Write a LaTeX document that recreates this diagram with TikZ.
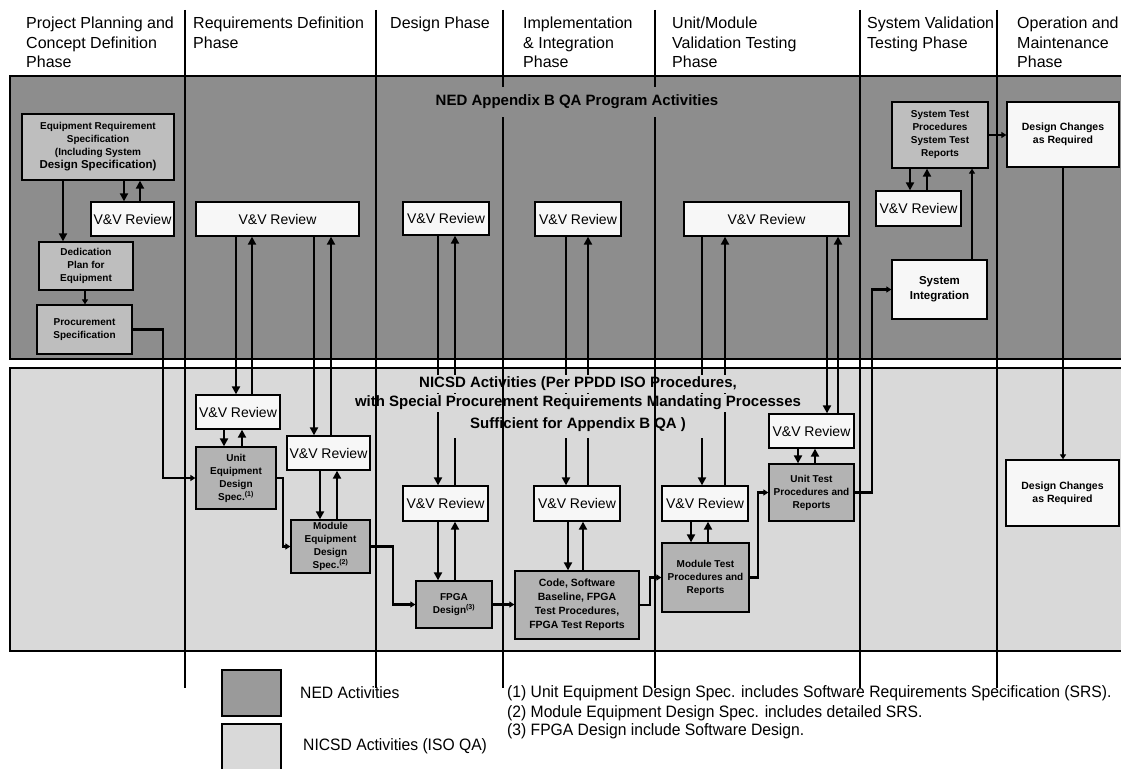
\documentclass[tikz,border=0pt]{standalone}
\usepackage{fontspec}
\setmainfont{Liberation Sans}
\newfontfamily\notefont[FakeStretch=0.95]{Liberation Sans}
\usetikzlibrary{arrows.meta}

\definecolor{nedbg}{HTML}{8D8D8D}
\definecolor{nicsdbg}{HTML}{D9D9D9}
\definecolor{specfill}{HTML}{BEBEBE}
\definecolor{workfill}{HTML}{B3B3B3}
\definecolor{paper}{HTML}{F7F7F7}
\definecolor{legned}{HTML}{9A9A9A}

% one review loop that crosses from the NED band into the NICSD band
\newcommand{\reviewlink}[3]{%
  \draw[feed] (#1 |- #2) -- (#1 |- band);
  \draw[flow] (#1 |- band) -- (#1 |- #3);}

\begin{document}
\begin{tikzpicture}[x=1pt,y=-1pt,
  geom/.style n args={4}{at={({(#1+#3)/2},{(#2+#4)/2})},
    minimum width={(#3-#1)*1pt},minimum height={(#4-#2)*1pt}},
  box/.style={draw=black,line width=1.3pt,inner sep=1pt,align=center,text=black},
  specbox/.style={box,fill=specfill,font=\fontsize{10}{13}\selectfont\bfseries},
  workbox/.style={box,fill=workfill,font=\fontsize{10}{13}\selectfont\bfseries},
  whitebox/.style={box,fill=paper,font=\fontsize{10.5}{13}\selectfont\bfseries},
  vvbox/.style={box,fill=paper,font=\fontsize{14}{16}\selectfont},
  phasehead/.style={anchor=north west,inner sep=0,align=left,
    font=\fontsize{16}{19.5}\selectfont},
  bandtitle/.style={inner xsep=3pt,inner ysep=2pt,font=\fontsize{15}{18}\selectfont\bfseries},
  region/.style={draw=black,line width=1.3pt},
  divider/.style={line width=1.2pt},
  feed/.style={line width=1.1pt},
  flow/.style={line width=2.6pt,-{Triangle[length=8pt,width=8pt]}},
  stepflow/.style={line width=2.8pt,-{Triangle[length=5pt,width=6pt]}},
  legendsq/.style={draw=black,line width=1.4pt},
  note/.style={anchor=west,inner sep=0,font=\notefont\fontsize{16.5}{19}\selectfont},
]
\clip (0,0) rectangle (1121,768);

% bands
\draw[region,fill=nedbg] (10,76) rectangle (1130,359);
\draw[region,fill=nicsdbg] (10,368) rectangle (1130,651);

% phase headings
\node[phasehead] (h1) at (26,17) {Project Planning and\\Concept Definition\\Phase};
\node[phasehead] (h2) at (193,17) {Requirements Definition\\Phase};
\node[phasehead] (h3) at (390,17) {Design Phase};
\node[phasehead] (h4) at (523,17) {Implementation\\\& Integration\\Phase};
\node[phasehead] (h5) at (672,17) {Unit/Module\\Validation Testing\\Phase};
\node[phasehead] (h6) at (867,17) {System Validation\\Testing Phase};
\node[phasehead] (h7) at (1017,17) {Operation and\\Maintenance\\Phase};

% NED activities
\node[specbox,geom={22}{114}{174}{180}] (ers)
  {Equipment Requirement\\Specification\\(Including System\\{\fontsize{11.5}{13}\selectfont Design Specification)}};
\node[specbox,geom={39}{242}{133}{290}] (ded) {Dedication\\Plan for\\Equipment};
\node[specbox,geom={37}{305}{132}{354}] (pro) {Procurement\\Specification};
\node[specbox,geom={892}{102}{988}{168}] (systest) {System Test\\Procedures\\System Test\\Reports};
\node[whitebox,geom={892}{260}{987}{319},font=\fontsize{11.5}{15}\selectfont\bfseries] (sysint) {System\\Integration};
\node[whitebox,geom={1007}{102}{1119}{167}] (dc) {Design Changes\\as Required};

\node[vvbox,geom={91}{202}{174}{236}] (vvP) {V\&V Review};
\node[vvbox,geom={196}{202}{359}{236}] (vvR) {V\&V Review};
\node[vvbox,geom={403}{202}{489}{235}] (vvD) {V\&V Review};
\node[vvbox,geom={535}{202}{621}{236}] (vvI) {V\&V Review};
\node[vvbox,geom={684}{202}{849}{236}] (vvT) {V\&V Review};
\node[vvbox,geom={876}{191}{961}{226}] (vvS) {V\&V Review};

% NICSD activities
\node[vvbox,geom={196}{395}{280}{429}] (vvR1) {V\&V Review};
\node[vvbox,geom={287}{436}{370}{470}] (vvR2) {V\&V Review};
\node[vvbox,geom={403}{486}{488}{521}] (vvD2) {V\&V Review};
\node[vvbox,geom={534}{486}{620}{521}] (vvI2) {V\&V Review};
\node[vvbox,geom={662}{486}{748}{521}] (vvT2) {V\&V Review};
\node[vvbox,geom={769}{414}{854}{448}] (vvU) {V\&V Review};

\node[workbox,geom={196}{447}{276}{509}] (unit) {Unit\\Equipment\\Design\\Spec.\textsuperscript{(1)}};
\node[workbox,geom={291}{520}{370}{573}] (mod) {Module\\Equipment\\Design\\Spec.\textsuperscript{(2)}};
\node[workbox,geom={416}{581}{492}{628}] (fpga) {FPGA\\Design\textsuperscript{(3)}};
\node[workbox,geom={515}{571}{639}{639},font=\fontsize{10.5}{14}\selectfont\bfseries] (code)
  {Code, Software\\Baseline, FPGA\\Test Procedures,\\FPGA Test Reports};
\node[workbox,geom={662}{543}{749}{612}] (modtest) {Module Test\\Procedures and\\Reports};
\node[workbox,geom={769}{464}{854}{521}] (unittest) {Unit Test\\Procedures and\\Reports};
\node[whitebox,geom={1006}{460}{1119}{526}] (dc2) {Design Changes\\as Required};

% lanes for the vertical links
\coordinate (band) at (0,364);
\coordinate (l-ers-ded) at (63,0);
\coordinate (l-ded-pro) at (85,0);
\coordinate (l-ers-dn) at (124,0);
\coordinate (l-ers-up) at (140,0);
\coordinate (l-r1-dn) at (236,0);
\coordinate (l-r1-up) at (252,0);
\coordinate (l-r2-dn) at (314,0);
\coordinate (l-r2-up) at (331,0);
\coordinate (l-u-dn) at (224,0);
\coordinate (l-u-up) at (242,0);
\coordinate (l-m-dn) at (320,0);
\coordinate (l-m-up) at (337,0);
\coordinate (l-d-dn) at (438,0);
\coordinate (l-d-up) at (455,0);
\coordinate (l-i-dn) at (566,0);
\coordinate (l-i-up) at (588,0);
\coordinate (l-c-dn) at (568,0);
\coordinate (l-c-up) at (583,0);
\coordinate (l-t-dn) at (702,0);
\coordinate (l-t-up) at (725,0);
\coordinate (l-mt-dn) at (691,0);
\coordinate (l-mt-up) at (708,0);
\coordinate (l-ut-dn) at (827,0);
\coordinate (l-ut-up) at (838,0);
\coordinate (l-utb-dn) at (798,0);
\coordinate (l-utb-up) at (815,0);
\coordinate (l-s-dn) at (910,0);
\coordinate (l-s-up) at (927,0);
\coordinate (l-si) at (972,0);
\coordinate (l-dc) at (1063,0);
\coordinate (k1) at (163,0);
\coordinate (k2) at (283,0);
\coordinate (k3) at (393,0);
\coordinate (k4) at (650,0);
\coordinate (k5) at (758,0);
\coordinate (k6) at (872,0);

% planning column
\draw[flow] (l-ers-ded |- ers.south) -- (l-ers-ded |- ded.north);
\draw[stepflow] (l-ded-pro |- ded.south) -- (l-ded-pro |- pro.north);
\draw[flow] (l-ers-dn |- ers.south) -- (l-ers-dn |- vvP.north);
\draw[flow] (l-ers-up |- vvP.north) -- (l-ers-up |- ers.south);

% review loops between the bands
\reviewlink{l-r1-dn}{vvR.south}{vvR1.north}
\reviewlink{l-r1-up}{vvR1.north}{vvR.south}
\reviewlink{l-r2-dn}{vvR.south}{vvR2.north}
\reviewlink{l-r2-up}{vvR2.north}{vvR.south}
\reviewlink{l-d-dn}{vvD.south}{vvD2.north}
\reviewlink{l-d-up}{vvD2.north}{vvD.south}
\reviewlink{l-i-dn}{vvI.south}{vvI2.north}
\reviewlink{l-i-up}{vvI2.north}{vvI.south}
\reviewlink{l-t-dn}{vvT.south}{vvT2.north}
\reviewlink{l-t-up}{vvT2.north}{vvT.south}
\draw[flow] (l-ut-dn |- vvT.south) -- (l-ut-dn |- vvU.north);
\draw[flow] (l-ut-up |- vvU.north) -- (l-ut-up |- vvT.south);

% local review loops
\draw[flow] (l-u-dn |- vvR1.south) -- (l-u-dn |- unit.north);
\draw[flow] (l-u-up |- unit.north) -- (l-u-up |- vvR1.south);
\draw[flow] (l-m-dn |- vvR2.south) -- (l-m-dn |- mod.north);
\draw[flow] (l-m-up |- mod.north) -- (l-m-up |- vvR2.south);
\draw[flow] (l-d-dn |- vvD2.south) -- (l-d-dn |- fpga.north);
\draw[flow] (l-d-up |- fpga.north) -- (l-d-up |- vvD2.south);
\draw[flow] (l-c-dn |- vvI2.south) -- (l-c-dn |- code.north);
\draw[flow] (l-c-up |- code.north) -- (l-c-up |- vvI2.south);
\draw[flow] (l-mt-dn |- vvT2.south) -- (l-mt-dn |- modtest.north);
\draw[flow] (l-mt-up |- modtest.north) -- (l-mt-up |- vvT2.south);
\draw[flow] (l-utb-dn |- vvU.south) -- (l-utb-dn |- unittest.north);
\draw[flow] (l-utb-up |- unittest.north) -- (l-utb-up |- vvU.south);
\draw[flow] (l-s-dn |- systest.south) -- (l-s-dn |- vvS.north);
\draw[flow] (l-s-up |- vvS.north) -- (l-s-up |- systest.south);

% main development flow
\draw[stepflow] (pro.east) -| (k1 |- unit.west) -- (unit.west);
\draw[stepflow] (unit.east) -| (k2 |- mod.west) -- (mod.west);
\draw[stepflow] (mod.east) -| (k3 |- fpga.west) -- (fpga.west);
\draw[stepflow] (fpga.east) -- (fpga.east -| code.west);
\draw[stepflow] (code.east) -| (k4 |- modtest.west) -- (modtest.west);
\draw[stepflow] (modtest.east) -| (k5 |- unittest.west) -- (unittest.west);
\draw[stepflow] (unittest.east) -| (k6 |- sysint.west) -- (sysint.west);
\draw[stepflow] (l-si |- sysint.north) -- (l-si |- systest.south);
\draw[stepflow] (systest.east) -- (systest.east -| dc.west);
\draw[stepflow] (l-dc |- dc.south) -- (l-dc |- dc2.north);

% NICSD band title
\node[bandtitle,fill=nicsdbg] (nicsd1) at (578,384) {NICSD Activities (Per PPDD ISO Procedures,};
\node[bandtitle,fill=nicsdbg] (nicsd2) at (578,403) {with Special Procurement Requirements Mandating Processes};
\node[bandtitle,fill=nicsdbg,minimum width=262pt,minimum height=26pt] (nicsd3) at (578,425) {Sufficient for Appendix B QA )};

% phase dividers
\foreach \px in {185,376,503,655,860,997}
  \draw[divider] (\px,10) -- (\px,688);

% NED band title
\node[bandtitle,fill=nedbg,inner ysep=8pt] (ned) at (577,102) {NED Appendix B QA Program Activities};

% legend and notes
\node[legendsq,fill=legned,geom={222}{670}{281}{716}] (keyned) {};
\node[legendsq,fill=nicsdbg,geom={222}{724}{281}{772}] (keynicsd) {};
\node[note] (keynedtxt) at (300,693) {NED Activities};
\node[note] (keynicsdtxt) at (303,746) {NICSD Activities (ISO QA)};
\node[note] (fn1) at (507,693) {(1) Unit Equipment Design Spec. includes Software Requirements Specification (SRS).};
\node[note] (fn2) at (507,713) {(2) Module Equipment Design Spec. includes detailed SRS.};
\node[note] (fn3) at (507,731) {(3) FPGA Design include Software Design.};
\end{tikzpicture}
\end{document}
